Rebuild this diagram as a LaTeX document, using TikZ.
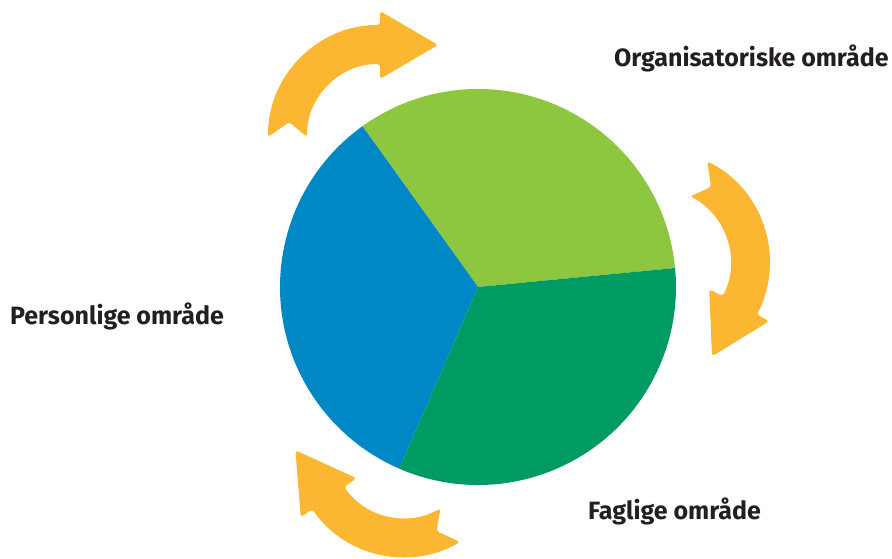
\documentclass[tikz,border=0pt]{standalone}
\usepackage{fontspec}
\setmainfont{Fira Sans}
\usepackage{tikz}
\definecolor{lysgroen}{HTML}{8DC63F}
\definecolor{moerkgroen}{HTML}{009A63}
\definecolor{blaa}{HTML}{0088C6}
\definecolor{gul}{HTML}{FBB731}
\definecolor{tekst}{HTML}{231F20}
\tikzset{
	pil/.style={fill=gul, rounded corners=3},
	felt/.style={text=tekst, font=\fontsize{25}{30}\selectfont\bfseries, inner sep=0pt, anchor=base west}
}
\newcommand{\kurvepil}[3]{%
	\fill[pil, shift={(#1)}, rotate=#2] (#3:112) arc[start angle=#3, end angle=0, radius=112] -- (126,0) -- (92,-58) -- (58,0) -- (73,0) arc[start angle=0, end angle=#3, radius=73] -- ({#3-9.3}:92) -- cycle;}

\begin{document}
\begin{tikzpicture}[x=1pt, y=1pt]
		\useasboundingbox (0,0) rectangle (892,559);
		\coordinate (m) at (478,272);
		\fill[lysgroen] (m) -- ++(5.5:198) arc[start angle=5.5, end angle=125.7, radius=198] -- cycle;
		\fill[blaa] (m) -- ++(125.7:198) arc[start angle=125.7, end angle=246.6, radius=198] -- cycle;
		\fill[moerkgroen] (m) -- ++(246.6:198) arc[start angle=246.6, end angle=365.5, radius=198] -- cycle;
		\kurvepil{380,422}{90}{90}
		\kurvepil{658,297}{-28}{92}
		\kurvepil{404,114}{-145}{85}
		\node[felt] (org) at (614,492) {Organisatoriske område};
		\node[felt] (pers) at (10,234) {Personlige område};
		\node[felt] (fag) at (588,39) {Faglige område};
	\end{tikzpicture}
\end{document}
